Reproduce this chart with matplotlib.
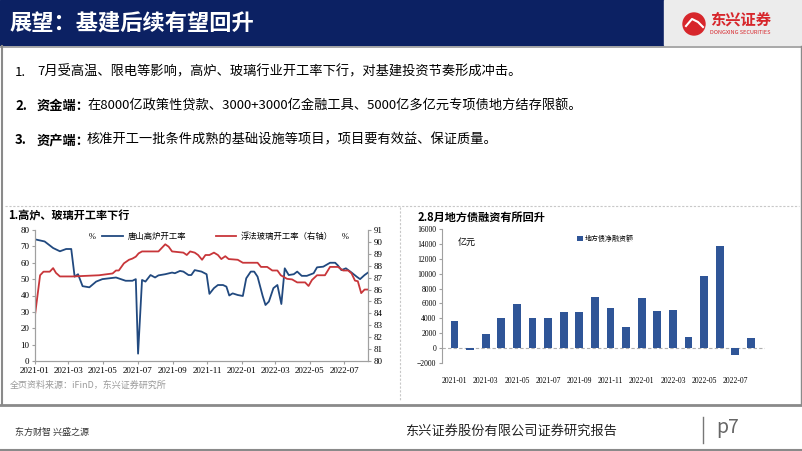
import numpy as np
import pandas as pd
import matplotlib
matplotlib.use("Agg")
import matplotlib.pyplot as plt
import matplotlib.dates as mdates
from matplotlib.patches import Rectangle, Circle

plt.rcParams['font.family'] = ['Noto Sans CJK SC', 'DejaVu Sans']

# ---------- data ----------
blue_dates = ["2021-01-01", "2021-01-18", "2021-02-02", "2021-02-14", "2021-02-25", "2021-03-06",
              "2021-03-12", "2021-03-18", "2021-03-26", "2021-04-07", "2021-04-19", "2021-04-30",
              "2021-05-12", "2021-05-24", "2021-06-10", "2021-06-22", "2021-06-28", "2021-07-02",
              "2021-07-09", "2021-07-15", "2021-07-24", "2021-08-01", "2021-08-07", "2021-08-19",
              "2021-08-31", "2021-09-05", "2021-09-14", "2021-09-20", "2021-09-29", "2021-10-04",
              "2021-10-10", "2021-10-22", "2021-10-31", "2021-11-05", "2021-11-13", "2021-11-20",
              "2021-11-29", "2021-12-05", "2021-12-10", "2021-12-16", "2021-12-25", "2022-01-03",
              "2022-01-09", "2022-01-17", "2022-01-23", "2022-01-29", "2022-02-07", "2022-02-12",
              "2022-02-18", "2022-02-26", "2022-03-05", "2022-03-12", "2022-03-18", "2022-03-25",
              "2022-04-03", "2022-04-09", "2022-04-17", "2022-04-26", "2022-05-08", "2022-05-14",
              "2022-05-25", "2022-06-06", "2022-06-15", "2022-06-20", "2022-06-26", "2022-07-04",
              "2022-07-14", "2022-07-23", "2022-07-29", "2022-08-06", "2022-08-12"]
blue_vals = [74.3, 73.0, 69.0, 67.0, 68.4, 68.4,
             51.5, 53.0, 45.7, 45.0, 48.5, 50.0,
             50.5, 51.0, 49.0, 49.0, 50.0, 4.5,
             49.5, 48.5, 52.5, 51.0, 52.3, 53.0,
             54.0, 53.6, 55.0, 54.6, 52.5, 52.5,
             55.5, 54.6, 53.0, 41.0, 44.5, 46.4,
             46.4, 45.4, 40.0, 41.3, 40.3, 39.7,
             50.5, 54.6, 54.6, 51.5, 39.7, 34.2,
             36.3, 44.5, 46.4, 34.8, 56.6, 52.5,
             53.0, 54.6, 52.0, 52.0, 53.6, 57.2,
             57.6, 60.0, 60.0, 58.3, 55.5, 56.6,
             54.0, 51.5, 50.0, 52.5, 54.0]

red_dates = ["2021-01-01", "2021-01-10", "2021-01-16", "2021-01-27", "2021-02-02", "2021-02-07",
             "2021-02-14", "2021-03-09", "2021-04-24", "2021-05-18", "2021-05-24", "2021-05-29",
             "2021-06-07", "2021-06-16", "2021-06-22", "2021-06-28", "2021-07-03", "2021-07-09",
             "2021-08-07", "2021-08-19", "2021-08-25", "2021-08-31", "2021-09-20", "2021-09-26",
             "2021-10-02", "2021-10-10", "2021-10-16", "2021-10-23", "2021-10-29", "2021-11-05",
             "2021-11-13", "2021-11-20", "2021-11-26", "2021-12-03", "2021-12-09", "2021-12-25",
             "2022-01-03", "2022-01-29", "2022-02-04", "2022-02-15", "2022-02-24", "2022-03-05",
             "2022-03-11", "2022-03-22", "2022-03-31", "2022-04-09", "2022-04-23", "2022-04-29",
             "2022-05-05", "2022-05-14", "2022-05-28", "2022-06-06", "2022-06-20", "2022-06-29",
             "2022-07-08", "2022-07-14", "2022-07-20", "2022-07-25", "2022-07-31", "2022-08-06",
             "2022-08-12"]
red_vals = [83.86, 87.2, 87.5, 87.5, 87.8, 87.4,
            87.1, 87.1, 87.2, 87.35, 87.6, 87.6,
            88.2, 88.5, 88.6, 88.76, 89.04, 89.2,
            89.2, 89.8, 89.6, 89.2, 89.1, 88.9,
            89.2, 89.1, 88.9, 88.5, 88.9, 88.9,
            89.1, 88.9, 88.56, 88.8, 88.56, 88.5,
            88.25, 88.25, 87.9, 87.9, 87.6, 87.6,
            87.2, 86.9, 86.85, 86.6, 86.6, 86.3,
            86.8, 87.2, 87.2, 87.9, 87.9, 87.6,
            87.6, 87.35, 86.75, 86.7, 85.7, 86.0,
            86.0]

bar_months = ["2021-01", "2021-02", "2021-03", "2021-04", "2021-05", "2021-06", "2021-07",
              "2021-08", "2021-09", "2021-10", "2021-11", "2021-12", "2022-01", "2022-02",
              "2022-03", "2022-04", "2022-05", "2022-06", "2022-07", "2022-08"]
bar_vals = [3600, -250, 1950, 4100, 5900, 4000, 4100, 4870, 4870, 6900,
            5450, 2840, 6760, 4960, 5090, 1530, 9690, 13745, -990, 1400]

bullets = [("1.", "", "7月受高温、限电等影响，高炉、玻璃行业开工率下行，对基建投资节奏形成冲击。"),
           ("2.", "资金端：", "在8000亿政策性贷款、3000+3000亿金融工具、5000亿多亿元专项债地方结存限额。"),
           ("3.", "资产端：", "核准开工一批条件成熟的基础设施等项目，项目要有效益、保证质量。")]

# ---------- figure ----------
W, H = 802, 451
fig = plt.figure(figsize=(W / 100, H / 100), dpi=100)
bg = fig.add_axes([0, 0, 1, 1])
bg.set_xlim(0, W)
bg.set_ylim(H, 0)
bg.axis("off")

navy = "#0c2163"
bg.add_patch(Rectangle((0, 0), 664, 45, color=navy))
bg.add_patch(Rectangle((664, 0), W - 664, 45, color="#ececec"))
bg.plot([0, W], [46.5, 46.5], color="#9a9a9a", lw=1.2)
bg.plot([1.5, 1.5], [46, 405], color="#8a8a8a", lw=1.5)
bg.plot([W - 1.5, W - 1.5], [46, 405], color="#8a8a8a", lw=1.0)
bg.plot([0, W], [405, 405], color="#8a8a8a", lw=2)
bg.plot([0, W], [H - 1, H - 1], color="#8a8a8a", lw=1.5)
bg.plot([5, W - 3], [206, 206], color="#c8c8c8", lw=0.8, ls=(0, (2, 1.5)))
bg.plot([400, 400], [207, 400], color="#c8c8c8", lw=0.8, ls=(0, (2, 1.5)))

bg.text(10, 23, "展望：基建后续有望回升", color="white", fontsize=16, fontweight="bold", va="center")

# logo
bg.add_patch(Circle((694, 24), 11, color="#d7262b"))
bg.plot([686, 692, 698, 703], [26, 19, 22, 27], color="white", lw=1.5)
bg.text(710, 20, "东兴证券", color="#d7262b", fontsize=11, fontweight="bold", va="center")
bg.text(710, 33, "DONGXING SECURITIES", color="#d7262b", fontsize=4, va="center")

for i, (num, head, body) in enumerate(bullets):
    y = 72 + i * 34
    bg.text(15, y, num, fontsize=9.5, fontweight="bold" if head else "normal", va="center")
    x = 37
    if head:
        bg.text(x, y, head, fontsize=9.5, fontweight="bold", va="center")
        x = 37 + 50
    bg.text(x, y, body, fontsize=9.5, va="center")

bg.text(8, 216, "1.高炉、玻璃开工率下行", fontsize=8, fontweight="bold", va="center")
bg.text(418, 217, "2.8月地方债融资有所回升", fontsize=8, fontweight="bold", va="center")
bg.text(10, 385, "全页资料来源：iFinD，东兴证券研究所", fontsize=6.5, color="#9a9a9a", va="center")

bg.text(15, 432, "东方财智 兴盛之源", fontsize=6.5, color="#333333", va="center")
bg.text(511, 431, "东兴证券股份有限公司证券研究报告", fontsize=9.5, color="#222222",
        va="center", ha="center")
bg.plot([703, 703], [417, 443], color="#777777", lw=1)
bg.text(716, 428, "p7", fontsize=14, color="#666666", va="center")

# ---------- line chart ----------
serif = "Liberation Serif"
ax = fig.add_axes([35 / W, 1 - 361 / H, (368 - 35) / W, (361 - 230) / H])
bd = pd.to_datetime(blue_dates)
rd = pd.to_datetime(red_dates)
ax.plot(bd, blue_vals, color="#21497f", lw=1.3, label="唐山高炉开工率")
ax.set_ylim(0, 80)
ax.set_yticks(range(0, 81, 10))
ax.set_xlim(pd.Timestamp("2021-01-01"), pd.Timestamp("2022-08-12"))
ax.xaxis.set_major_locator(mdates.MonthLocator(bymonth=[1, 3, 5, 7, 9, 11]))
ax.xaxis.set_major_formatter(mdates.DateFormatter("%Y-%m"))
ax2 = ax.twinx()
ax2.plot(rd, red_vals, color="#c8363a", lw=1.3, label="浮法玻璃开工率（右轴）")
ax2.set_ylim(80, 91)
ax2.set_yticks(range(80, 92))
for a in (ax, ax2):
    a.spines["top"].set_visible(False)
    for s in a.spines.values():
        s.set_color("#a0a0a0")
        s.set_linewidth(0.8)
    a.tick_params(labelsize=6.5, length=2, color="#a0a0a0", pad=2)
    for lab in a.get_xticklabels() + a.get_yticklabels():
        lab.set_fontfamily(serif)
ax.legend(loc="upper left", bbox_to_anchor=(0.18, 1.04), frameon=False, fontsize=6,
          handlelength=2.5, handletextpad=0.5)
ax2.legend(loc="upper left", bbox_to_anchor=(0.52, 1.04), frameon=False, fontsize=6,
           handlelength=2.5, handletextpad=0.5)
ax.text(0.16, 0.95, "%", transform=ax.transAxes, fontsize=6, va="center", family=serif)
ax.text(0.92, 0.95, "%", transform=ax.transAxes, fontsize=6, va="center", family=serif)

# ---------- bar chart ----------
bx = fig.add_axes([442 / W, 1 - 363 / H, (765 - 442) / W, (363 - 229) / H])
pos = np.arange(len(bar_months))
bx.bar(pos, bar_vals, width=0.5, color="#2f5597", label="地方债净融资额", zorder=2)
bx.axhline(0, color="#b0b0b0", lw=0.8, ls=(0, (3, 2)), zorder=1)
bx.set_ylim(-2000, 16000)
bx.set_yticks(range(-2000, 16001, 2000))
bx.set_xlim(-0.8, len(bar_months) - 0.1)
bx.set_xticks(pos[::2])
bx.set_xticklabels(bar_months[::2])
for s in ("top", "right", "bottom"):
    bx.spines[s].set_visible(False)
bx.spines["left"].set_color("#a0a0a0")
bx.spines["left"].set_linewidth(0.8)
bx.tick_params(axis="y", labelsize=5.5, length=2, color="#a0a0a0", pad=2)
bx.tick_params(axis="x", labelsize=5.5, length=0, pad=10)
for lab in bx.get_xticklabels() + bx.get_yticklabels():
    lab.set_fontfamily(serif)
bx.legend(loc="upper left", bbox_to_anchor=(0.4, 1.0), frameon=False, fontsize=5,
          handlelength=0.8, handleheight=0.8, handletextpad=0.2)
bx.text(0.05, 0.9, "亿元", transform=bx.transAxes, fontsize=6.5, va="center")

fig.savefig("out.png", dpi=100)
